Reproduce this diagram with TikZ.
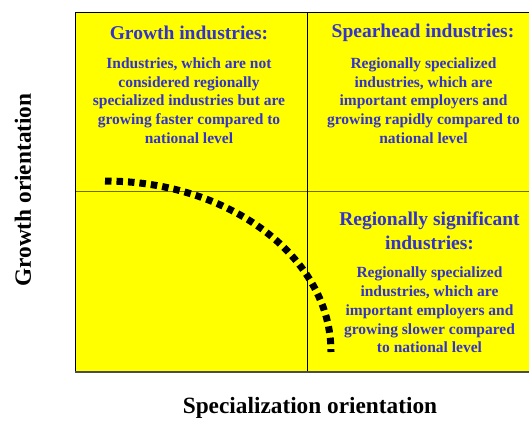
\documentclass[tikz,border=0pt]{standalone}
\usepackage{fontspec}
\setmainfont{Liberation Serif}
\definecolor{quadfill}{HTML}{FFFF00}
\definecolor{quadtext}{HTML}{3333CC}
\definecolor{midline}{HTML}{6E6E00}
\begin{document}
\begin{tikzpicture}
[x=1pt,y=-1pt,%
  titledecorate/.style={align=center,inner sep=0pt,text=quadtext,font=\bfseries\fontsize{19.5}{23.5}\selectfont},%
  bodydecorate/.style={align=center,inner sep=0pt,text=quadtext,font=\bfseries\fontsize{15.5}{18.7}\selectfont},%
  axisdecorate/.style={inner sep=0pt,font=\bfseries\fontsize{23.3}{28}\selectfont},%
  curvedecorate/.style={line width=7pt,dash pattern=on 6.5pt off 5pt}]
\useasboundingbox (0,0) rectangle (529,421);
%% quadrants
\fill[quadfill] (75.3,12) rectangle (545,372);
\draw[midline,line width=1.5pt] (75.3,191.7) -- (545,191.7);
\draw[line width=1pt] (307.3,12) -- (307.3,372);
\draw[line width=1pt] (545,12) -- (75.3,12) -- (75.3,372);
\draw[black!70,line width=1.5pt] (75.3,372) -- (545,372);
%% quadrant texts
\node (growthtitle) at (189,33) [titledecorate] {Growth industries:};
\node (growthtext) at (189,100.5) [bodydecorate] {Industries, which are not\\considered regionally\\specialized industries but are\\growing faster compared to\\national level};
\node (spearheadtitle) at (423,33) [titledecorate] {Spearhead industries:};
\node (spearheadtext) at (423.5,100.5) [bodydecorate] {Regionally specialized\\industries, which are\\important employers and\\growing rapidly compared to\\national level};
\node (regionaltitle) at (429.5,231) [titledecorate] {Regionally significant\\industries:};
\node (regionaltext) at (429.5,310) [bodydecorate] {Regionally specialized\\industries, which are\\important employers and\\growing slower compared\\to national level};
%% axes
\node (growthaxis) at (23,190) [axisdecorate,rotate=90] {Growth orientation};
\node (specaxis) at (310,408) [axisdecorate] {Specialization orientation};
%% curve
\coordinate (curvestart) at (105,181);
\coordinate (curveend) at (331,352);
\draw[curvedecorate] (curvestart) .. controls (229.8,181) and (331,257.6) .. (curveend);
\end{tikzpicture}
\end{document}
